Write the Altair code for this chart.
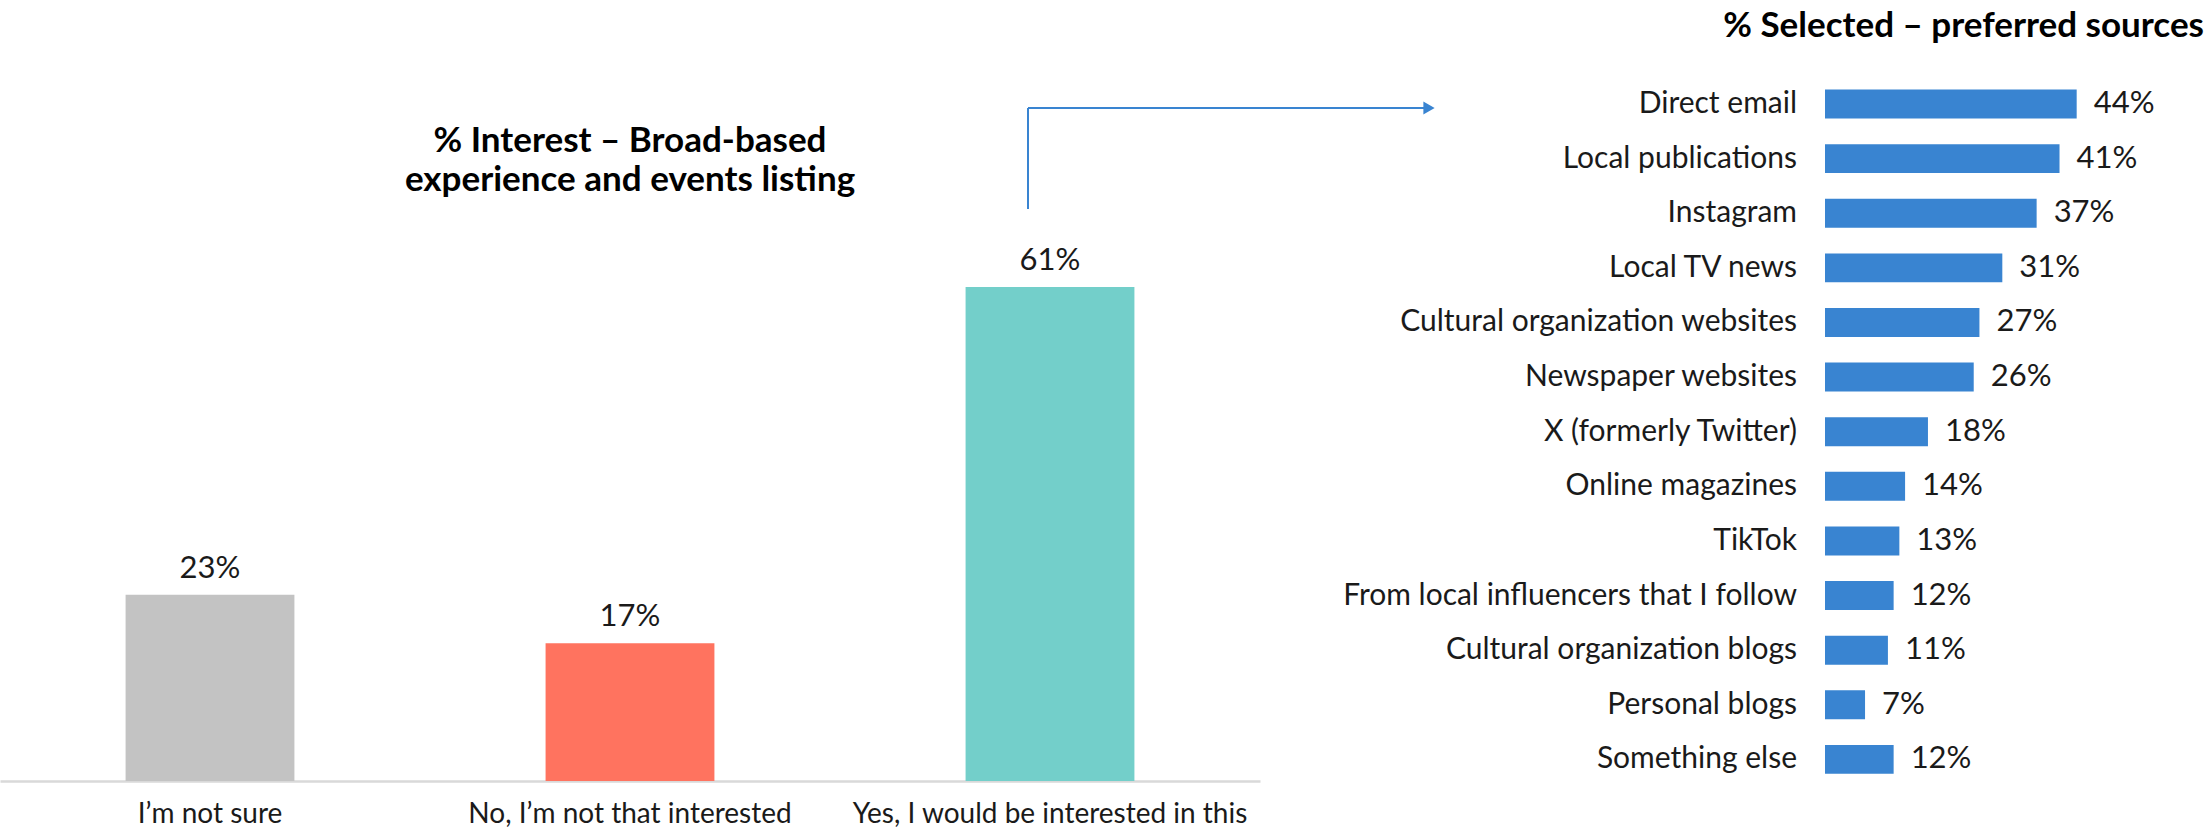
import altair as alt
import pandas as pd

# ---- data ----
interest_cats = ["I\u2019m not sure", "No, I\u2019m not that interested", "Yes, I would be interested in this"]
interest_vals = [23, 17, 61]
interest_colors = ["#C3C3C3", "#FF735F", "#73CFCA"]

source_cats = [
    "Direct email", "Local publications", "Instagram", "Local TV news",
    "Cultural organization websites", "Newspaper websites", "X (formerly Twitter)",
    "Online magazines", "TikTok", "From local influencers that I follow",
    "Cultural organization blogs", "Personal blogs", "Something else",
]
source_vals = [44, 41, 37, 31, 27, 26, 18, 14, 13, 12, 11, 7, 12]

left_title = ["% Interest \u2013 Broad-based", "experience and events listing"]
right_title = "% Selected \u2013 preferred sources"

FONT = "Lato"
BLUE = "#3984D1"
TXT = "#1a1a1a"

left_df = pd.DataFrame({"cat": interest_cats, "val": interest_vals,
                        "label": [f"{v}%" for v in interest_vals]})
right_df = pd.DataFrame({"src": source_cats, "val": source_vals,
                         "label": [f"{v}%" for v in source_vals]})
dummy = pd.DataFrame({"a": [0]})

# ---- left chart scales ----
lx_scale = alt.Scale(domain=interest_cats, range=[0, 1260], paddingInner=0.598, paddingOuter=0.299)
ly_scale = alt.Scale(domain=[0, 61], range=[781, 781 - 61 * 8.1], nice=False, zero=True)

left_bars = alt.Chart(left_df).mark_bar().encode(
    x=alt.X("cat:N", scale=lx_scale, sort=interest_cats,
            axis=alt.Axis(title=None, ticks=False, tickSize=0, labelAngle=0, labelLimit=0,
                          labelFont=FONT, labelFontSize=28, labelFontWeight="normal",
                          labelColor=TXT, labelPadding=19,
                          domainColor="#D9D9D9", domainWidth=2.5)),
    y=alt.Y("val:Q", scale=ly_scale, axis=None),
    color=alt.Color("cat:N", scale=alt.Scale(domain=interest_cats, range=interest_colors), legend=None),
)

left_labels = alt.Chart(left_df).mark_text(
    font=FONT, fontSize=31, fontWeight="normal", color=TXT, baseline="alphabetic", dy=-17
).encode(
    x=alt.X("cat:N", scale=lx_scale, sort=interest_cats, axis=None),
    y=alt.Y("val:Q", scale=ly_scale, axis=None),
    text="label:N",
)

left_title_mark = alt.Chart(dummy).mark_text(
    font=FONT, fontSize=35, fontWeight="bold", color="#000000",
    align="center", baseline="middle", lineHeight=39,
).encode(x=alt.value(630), y=alt.value(141), text=alt.value(left_title))

# ---- right chart scales ----
ry_scale = alt.Scale(domain=source_cats, range=[76.7, 786.7], paddingInner=0.47, paddingOuter=0.235)
rx_scale = alt.Scale(domain=[0, 44], range=[1825, 1825 + 44 * 5.72], nice=False, zero=True)

right_bars = alt.Chart(right_df).mark_bar(color=BLUE).encode(
    y=alt.Y("src:N", scale=ry_scale, sort=source_cats, axis=None),
    x=alt.X("val:Q", scale=rx_scale, axis=None),
)

right_cat_labels = alt.Chart(right_df).transform_calculate(zero="0").mark_text(
    font=FONT, fontSize=30, fontWeight="normal", color=TXT, align="right",
    baseline="middle", dx=-28,
).encode(
    y=alt.Y("src:N", scale=ry_scale, sort=source_cats, axis=None),
    x=alt.X("zero:Q", scale=rx_scale, axis=None),
    text="src:N",
)

right_val_labels = alt.Chart(right_df).mark_text(
    font=FONT, fontSize=31, fontWeight="normal", color=TXT, align="left",
    baseline="middle", dx=17,
).encode(
    y=alt.Y("src:N", scale=ry_scale, sort=source_cats, axis=None),
    x=alt.X("val:Q", scale=rx_scale, axis=None),
    text="label:N",
)

right_title_mark = alt.Chart(dummy).mark_text(
    font=FONT, fontSize=35, fontWeight="bold", color="#000000",
    align="right", baseline="middle",
).encode(x=alt.value(2204), y=alt.value(26), text=alt.value(right_title))

# ---- arrow annotation ----
arrow_v = alt.Chart(dummy).mark_rule(color=BLUE, strokeWidth=2).encode(
    x=alt.value(1028), y=alt.value(108), y2=alt.value(209))
arrow_h = alt.Chart(dummy).mark_rule(color=BLUE, strokeWidth=2).encode(
    x=alt.value(1028), x2=alt.value(1424), y=alt.value(108))
arrow_head = alt.Chart(dummy).mark_point(
    shape="triangle-right", filled=True, color=BLUE, size=170, opacity=1).encode(
    x=alt.value(1429), y=alt.value(108))

chart = alt.layer(
    left_bars, left_labels, left_title_mark,
    right_bars, right_cat_labels, right_val_labels, right_title_mark,
    arrow_v, arrow_h, arrow_head,
).resolve_scale(
    x="independent", y="independent", color="independent"
).resolve_axis(
    x="independent", y="independent"
).properties(
    width=2204, height=781,
    background="white",
    autosize=alt.AutoSizeParams(type="none"),
    padding={"left": 0, "right": 0, "top": 0, "bottom": 51},
).configure_view(stroke="transparent", strokeWidth=0)

chart.save("out.html", embed_options={"renderer": "svg", "actions": False})
